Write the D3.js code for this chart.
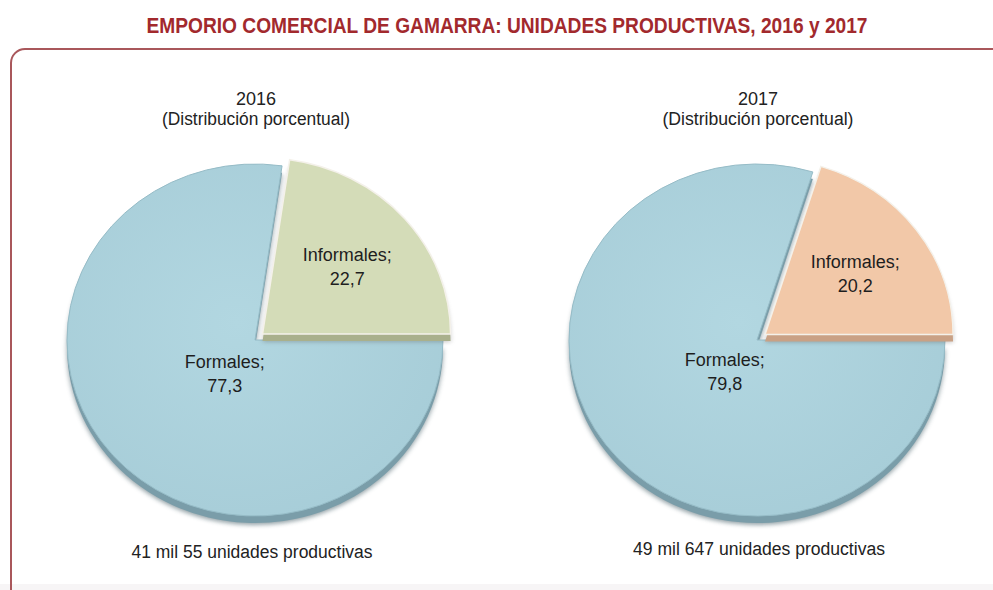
<!DOCTYPE html>
<html>
<head>
<meta charset="utf-8">
<script src="https://cdn.jsdelivr.net/npm/d3@7"></script>
<style>
body{margin:0;background:#fff;}
svg{display:block;}
text{font-family:"Liberation Sans",Arial,sans-serif;}
</style>
</head>
<body>
<svg id="svg" width="993" height="590"></svg>
<script>
const title="EMPORIO COMERCIAL DE GAMARRA: UNIDADES PRODUCTIVAS, 2016 y 2017";
const years=["2016","2017"];
const subtitle="(Distribución porcentual)";
const categories=["Formales","Informales"];
const formales=[77.3,79.8];
const informales=[22.7,20.2];
const totals=["41 mil 55 unidades productivas","49 mil 647 unidades productivas"];

const svg=d3.select("#svg");
const W=993;

// fondo gris al borde inferior de la imagen
svg.append("rect").attr("x",0).attr("y",584).attr("width",W).attr("height",6).attr("fill","#f7f5f6");

// marco
svg.append("rect").attr("x",11).attr("y",49).attr("width",1010).attr("height",560).attr("rx",14)
    .attr("fill","none").attr("stroke","#a9575b").attr("stroke-width",2);

svg.append("text").attr("x",507).attr("y",33).attr("text-anchor","middle")
    .attr("textLength",721).attr("lengthAdjust","spacingAndGlyphs")
    .style("font-size","22px").style("font-weight","bold").style("fill","#a2292d").text(title);

const defs=svg.append("defs");
defs.append("filter").attr("id","blur").append("feGaussianBlur").attr("stdDeviation",2.5);
const grad=defs.append("radialGradient").attr("id","gBlue").attr("cx","45%").attr("cy","45%").attr("r","60%");
grad.append("stop").attr("offset","0%").attr("stop-color","#b2d7e1");
grad.append("stop").attr("offset","100%").attr("stop-color","#a7cdd8");

const centers=[255,757];
const cy=340, rx=188, ry=176, depth=7;
const informalColors=["#d4dcb8","#f2c8a8"];
const informalSides=["#a9b08c","#c9a185"];
const subWidths=[188,191];
const totWidths=[241,252];

const pie=d3.pie().sort(null).startAngle(Math.PI/2).endAngle(Math.PI/2+2*Math.PI);
const arc=d3.arc().innerRadius(0).outerRadius(rx);

years.forEach(function(year,i)
{
    let cx=centers[i];
    let data=[{name:categories[0],value:formales[i]},{name:categories[1],value:informales[i]}];
    let slices=pie.value(d=>d.value)(data);
    let f=slices[0], inf=slices[1];
    let mid=(inf.startAngle+inf.endAngle)/2;
    let fmid=(f.startAngle+f.endAngle)/2;
    let ox=10*Math.sin(mid), oy=-10*Math.cos(mid)*ry/rx;

    let g=svg.append("g").attr("transform","translate("+cx+","+cy+")");
    let sc="scale(1,"+(ry/rx)+")";

    // sombra
    g.append("path").attr("d",arc(f)).attr("transform","translate(0,"+(depth+2)+") "+sc)
        .attr("fill","#3f5a63").attr("opacity",0.55).attr("filter","url(#blur)");
    // lado
    g.append("path").attr("d",arc(f)).attr("transform","translate(0,"+depth+") "+sc).attr("fill","#7a9da9");
    // cara
    g.append("path").attr("d",arc(f)).attr("transform",sc).attr("fill","url(#gBlue)")
        .attr("stroke","#96bcc7").attr("stroke-width",1).attr("vector-effect","non-scaling-stroke");

    g.append("path").attr("d",arc(inf)).attr("transform","translate("+ox+","+(oy+depth+1)+") "+sc)
        .attr("fill","#555").attr("opacity",0.35).attr("filter","url(#blur)");
    g.append("path").attr("d",arc(inf)).attr("transform","translate("+ox+","+(oy+depth)+") "+sc).attr("fill",informalSides[i]);
    g.append("path").attr("d",arc(inf)).attr("transform","translate("+ox+","+oy+") "+sc).attr("fill",informalColors[i])
        .attr("stroke","#f4f1ea").attr("stroke-width",1.5).attr("vector-effect","non-scaling-stroke");

    // etiquetas
    let lf=[40*Math.sin(fmid), -40*Math.cos(fmid)*ry/rx+6];
    let li=[ox+112*Math.sin(mid), oy-112*Math.cos(mid)*ry/rx-2];
    [[lf,f],[li,inf]].forEach(function(p)
    {
        let t=g.append("text").attr("text-anchor","middle").style("font-size","18px").style("fill","#1e1e1e");
        t.append("tspan").attr("x",p[0][0]).attr("y",p[0][1]-2).text(p[1].data.name+";");
        t.append("tspan").attr("x",p[0][0]).attr("y",p[0][1]+22).text(d3.format(".1f")(p[1].data.value).replace(".",","));
    });

    svg.append("text").attr("x",cx+1).attr("y",105).attr("text-anchor","middle")
        .style("font-size","18px").style("fill","#222").text(year);
    svg.append("text").attr("x",cx+1).attr("y",125).attr("text-anchor","middle")
        .attr("textLength",subWidths[i]).attr("lengthAdjust","spacingAndGlyphs")
        .style("font-size","18px").style("fill","#222").text(subtitle);
    svg.append("text").attr("x",[252,759][i]).attr("y",[558,555][i]).attr("text-anchor","middle")
        .attr("textLength",totWidths[i]).attr("lengthAdjust","spacingAndGlyphs")
        .style("font-size","18px").style("fill","#222").text(totals[i]);
});
</script>
</body>
</html>
